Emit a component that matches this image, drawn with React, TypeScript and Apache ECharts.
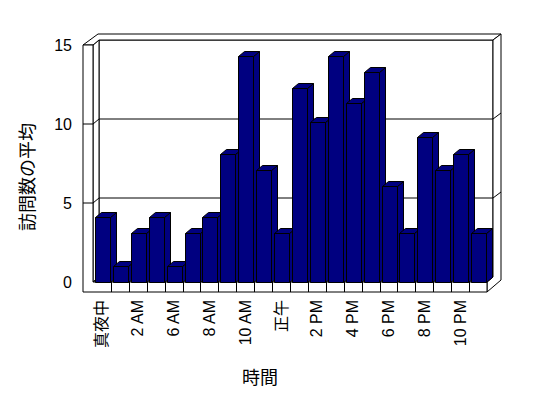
import React, { useEffect, useRef } from "react";
import * as echarts from "echarts";

const categories = [
  "真夜中", "1 AM", "2 AM", "3 AM", "6 AM", "7 AM", "8 AM", "9 AM", "10 AM", "11 AM",
  "正午", "1 PM", "2 PM", "3 PM", "4 PM", "5 PM", "6 PM", "7 PM", "8 PM", "9 PM", "10 PM", "11 PM",
];
const visits = [4.1, 1.0, 3.1, 4.1, 1.0, 3.1, 4.1, 8.1, 14.3, 7.1, 3.1, 12.3, 10.1, 14.3, 11.3, 13.3, 6.1, 3.1, 9.2, 7.1, 8.1, 3.1];
const gridValues = [5, 10];
const yAxisName = "訪問数の平均";
const xAxisName = "時間";

const FONT = "'Liberation Sans', Arial, 'Noto Sans CJK JP', sans-serif";
const BAR = "#000080";
const DX = 6;
const DY = -5;

export default function App() {
  const ref = useRef<HTMLDivElement>(null);
  useEffect(() => {
    if (!ref.current) return;
    const chart = echarts.init(ref.current, undefined, { renderer: "svg" });
    const lineStyle = { stroke: "#000", lineWidth: 1, fill: "none" };
    const faceStyle = { fill: "#fff", stroke: "#000", lineWidth: 1 };
    chart.setOption({
      animation: false,
      backgroundColor: "#fff",
      grid: { left: 93, right: 61, top: 45, bottom: 116 },
      xAxis: {
        type: "category",
        data: categories,
        boundaryGap: true,
        axisLine: { show: false },
        axisTick: { show: false },
        splitLine: { show: false },
        axisLabel: {
          interval: 1,
          rotate: 90,
          margin: 18,
          fontSize: 16,
          color: "#000",
          fontFamily: FONT,
        },
        name: xAxisName,
        nameLocation: "middle",
        nameGap: 87,
        nameTextStyle: { fontSize: 18, color: "#000", fontFamily: FONT, padding: [0, 60, 0, 0] },
      },
      yAxis: {
        type: "value",
        min: 0,
        max: 15,
        interval: 5,
        axisLine: { show: false },
        axisTick: { show: false },
        splitLine: { show: false },
        axisLabel: { margin: 21, fontSize: 16, color: "#000", fontFamily: FONT },
        name: yAxisName,
        nameLocation: "middle",
        nameGap: 56,
        nameTextStyle: { fontSize: 18, color: "#000", fontFamily: FONT, padding: [0, 27, 0, 0] },
      },
      series: [
        {
          type: "custom",
          silent: true,
          clip: false,
          z: 1,
          data: [[0, 0]],
          renderItem: (params: any, api: any) => {
            const cs = params.coordSys;
            const X0 = cs.x, X1 = cs.x + cs.width, Y0 = cs.y, Y1 = cs.y + cs.height;
            const wt = 10;
            const children: any[] = [];
            children.push({ type: "rect", shape: { x: X0 + DX, y: Y0 + DY, width: X1 - X0, height: Y1 - Y0 }, style: faceStyle });
            children.push({ type: "polygon", shape: { points: [[X0, Y0], [X0 + DX, Y0 + DY], [X0 + DX, Y1 + DY], [X0, Y1]] }, style: faceStyle });
            children.push({ type: "polygon", shape: { points: [[X0, Y1], [X1, Y1], [X1 + DX, Y1 + DY], [X0 + DX, Y1 + DY]] }, style: faceStyle });
            children.push({
              type: "polygon",
              shape: { points: [[X0 - wt, Y0], [X0, Y0], [X0 + DX, Y0 + DY], [X1 + DX, Y0 + DY], [X1 + DX + 8, Y0 + DY - 6], [X0 + DX - 1, Y0 + DY - 6]] },
              style: faceStyle,
            });
            children.push({
              type: "polygon",
              shape: { points: [[X1, Y1], [X1 + DX, Y1 + DY], [X1 + DX, Y0 + DY], [X1 + DX + 8, Y0 + DY - 6], [X1 + DX + 8, Y1 - 2], [X1, Y1 + 10]] },
              style: faceStyle,
            });
            children.push({
              type: "polygon",
              shape: { points: [[X0 - wt, Y0], [X0, Y0], [X0, Y1], [X1, Y1], [X1, Y1 + 10], [X0 - wt, Y1 + 10]] },
              style: faceStyle,
            });
            gridValues.forEach((v) => {
              const y = api.coord([0, v])[1];
              children.push({ type: "line", shape: { x1: X0 + DX, y1: y + DY, x2: X1 + DX, y2: y + DY }, style: lineStyle });
              children.push({ type: "line", shape: { x1: X0 - wt, y1: y, x2: X0, y2: y }, style: lineStyle });
              children.push({ type: "line", shape: { x1: X0, y1: y, x2: X0 + DX, y2: y + DY }, style: lineStyle });
              children.push({ type: "line", shape: { x1: X1 + DX, y1: y + DY, x2: X1 + DX + 8, y2: y + DY - 6 }, style: lineStyle });
            });
            const band = cs.width / categories.length;
            for (let k = 1; k < categories.length; k++) {
              const x = Math.round(X0 + k * band) + 0.5;
              children.push({ type: "line", shape: { x1: x, y1: Y1, x2: x, y2: Y1 + 10 }, style: lineStyle });
            }
            return { type: "group", children };
          },
        },
        {
          type: "custom",
          name: yAxisName,
          z: 2,
          clip: false,
          encode: { x: 0, y: 1 },
          data: visits.map((v, i) => [i, v]),
          renderItem: (params: any, api: any) => {
            const i = api.value(0);
            const v = api.value(1);
            const top = api.coord([i, v]);
            const base = api.coord([i, 0]);
            const left = Math.round(top[0] - 7) + 0.5;
            const right = left + 15;
            const ty = Math.round(top[1]) + 0.5;
            const by = Math.round(base[1]) + 0.5;
            const st = { fill: BAR, stroke: "#000", lineWidth: 1 };
            return {
              type: "group",
              children: [
                { type: "polygon", shape: { points: [[right, ty], [right + DX, ty + DY], [right + DX, by + DY], [right, by]] }, style: st },
                { type: "polygon", shape: { points: [[left, ty], [left + DX, ty + DY], [right + DX, ty + DY], [right, ty]] }, style: st },
                { type: "rect", shape: { x: left, y: ty, width: right - left, height: by - ty }, style: st },
              ],
            };
          },
        },
      ],
    });
    return () => chart.dispose();
  }, []);
  return <div ref={ref} style={{ position: "absolute", left: 0, top: 0, width: 548, height: 398 }} />;
}
